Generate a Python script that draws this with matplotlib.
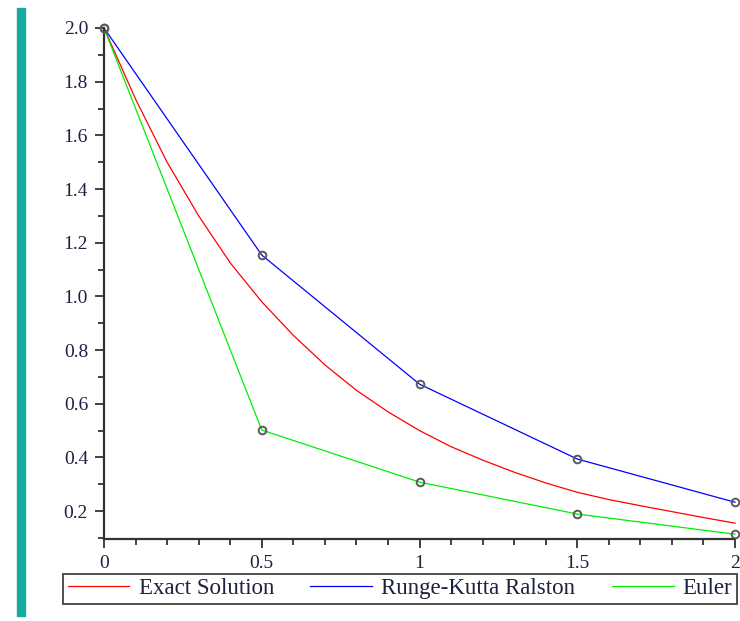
import matplotlib
matplotlib.use("Agg")
import matplotlib.pyplot as plt
from matplotlib.patches import Rectangle
from matplotlib.ticker import MultipleLocator

plt.rcParams['font.family'] = ['Liberation Serif', 'DejaVu Serif']

# Exact solution
exact_x = [0.0, 0.1, 0.2, 0.3, 0.4, 0.5, 0.6, 0.7, 0.8, 0.9, 1.0,
           1.1, 1.2, 1.3, 1.4, 1.5, 1.6, 1.7, 1.8, 1.9, 2.0]
exact_y = [2.00, 1.735, 1.50, 1.30, 1.125, 0.98, 0.855, 0.745, 0.65, 0.57, 0.50,
           0.44, 0.39, 0.345, 0.305, 0.27, 0.243, 0.22, 0.198, 0.176, 0.155]

# Numerical methods, step 0.5
step_x = [0.0, 0.5, 1.0, 1.5, 2.0]
rk_y = [2.0, 1.154, 0.673, 0.394, 0.233]
euler_y = [2.0, 0.502, 0.308, 0.189, 0.114]

labels = ["Exact Solution", "Runge-Kutta Ralston", "Euler"]
colors = ["#ff0000", "#0000ff", "#00ee00"]

xticks = [0, 0.5, 1, 1.5, 2]
xticklabels = ["0", "0.5", "1", "1.5", "2"]
yticks = [0.2, 0.4, 0.6, 0.8, 1.0, 1.2, 1.4, 1.6, 1.8, 2.0]
yticklabels = ["0.2", "0.4", "0.6", "0.8", "1.0", "1.2", "1.4", "1.6", "1.8", "2.0"]

fig = plt.figure(figsize=(7.40, 6.21), dpi=100)
ax = fig.add_axes([104/740, 1-539/621, 631/740, 511/621])

l1, = ax.plot(exact_x, exact_y, color=colors[0], lw=0.9, label=labels[0])
l2, = ax.plot(step_x, rk_y, color=colors[1], lw=0.9, label=labels[1])
l3, = ax.plot(step_x, euler_y, color=colors[2], lw=0.9, label=labels[2])
for ys in (rk_y, euler_y):
    ax.plot(step_x, ys, ls='none', marker='o', ms=5.5, mfc='none',
            mec='#5a5a5a', mew=1.4, zorder=5)

ax.set_xlim(0, 2)
ax.set_ylim(0.096, 2.0)
for s in ['top', 'right']:
    ax.spines[s].set_visible(False)
for s in ['left', 'bottom']:
    ax.spines[s].set_color('#333333')
    ax.spines[s].set_linewidth(1.6)

ax.set_xticks(xticks)
ax.set_xticklabels(xticklabels)
ax.set_yticks(yticks)
ax.set_yticklabels(yticklabels)
ax.xaxis.set_minor_locator(MultipleLocator(0.1))
ax.yaxis.set_minor_locator(MultipleLocator(0.1))
ax.tick_params(which='major', length=6.5, width=1.3, color='#333333',
               labelsize=14, pad=5, labelcolor='#1c2140')
ax.tick_params(which='minor', length=4, width=1.3, color='#333333')
for ln in ax.lines:
    ln.set_clip_on(False)

leg = fig.legend(handles=[l1, l2, l3], labels=labels, ncol=3,
                 loc='lower left',
                 bbox_to_anchor=(63/740, 1-604/621, 674/740, 31/621),
                 mode='expand', fontsize=16.5, handlelength=2.7,
                 handletextpad=0.4, columnspacing=0.5, borderpad=0.2,
                 fancybox=False, frameon=True, borderaxespad=0)
leg.get_frame().set_edgecolor('#222222')
leg.get_frame().set_linewidth(1.4)
for t in leg.get_texts():
    t.set_color('#1c2140')

fig.patches.append(Rectangle((17/740, 1-616/621), 8/740, 608/621,
                             transform=fig.transFigure, color='#17aaa0',
                             zorder=0))

fig.savefig("out.png", dpi=100)
